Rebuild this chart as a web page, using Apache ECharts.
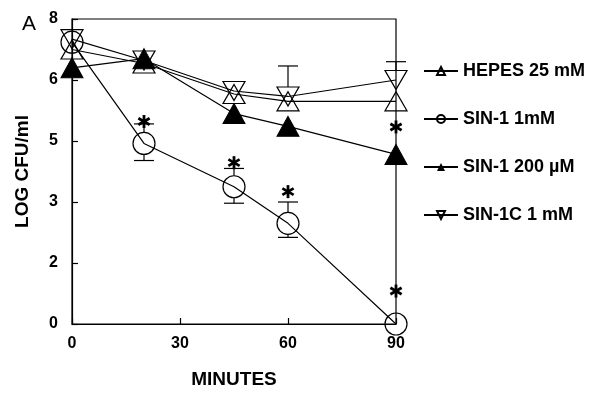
<!DOCTYPE html>
<html><head><meta charset="utf-8">
<script src="https://cdn.jsdelivr.net/npm/echarts@6/dist/echarts.min.js"></script>
<style>html,body{margin:0;padding:0;background:#fff}#c{width:605px;height:394px}</style>
</head><body><div id="c"></div>
<script>
// ---- data (LOG CFU/ml) ----
const minutes = [0, 20, 45, 60, 90];
const yTickLabels = [0, 2, 3, 5, 6, 8];   // evenly spaced ticks on the original axis
const xTicks = [0, 30, 60, 90];
const hepes = [7.0, 6.54, 5.77, 5.65, 5.65];
const sin1_1mM = [7.24, 4.92, 3.5, 2.65, 0];
const sin1_200uM = [6.4, 6.7, 5.45, 5.24, 4.56];
const sin1c = [7.34, 6.64, 5.82, 5.73, 6.0];
const sin1ErrLow = [null, 4.36, 2.98, 2.42, null];
const sin1ErrHigh = [null, 5.28, 4.1, 3.0, null];
const sin1cErrHigh = [null, null, null, 6.46, 6.6];
const starX = [20, 45, 60, 90, 90];
const starY = [5.32, 4.29, 3.34, 1.08, 5.23];

// map value to the axis position (axis is piecewise between its labelled ticks)
function toPos(v) {
  for (let i = 0; i < yTickLabels.length - 1; i++) {
    if (v <= yTickLabels[i + 1]) return i + (v - yTickLabels[i]) / (yTickLabels[i + 1] - yTickLabels[i]);
  }
  return yTickLabels.length - 1;
}
const pts = arr => minutes.map((m, i) => [m, toPos(arr[i])]);

function errData(center, low, high) {
  const out = [];
  minutes.forEach((m, i) => {
    const lo = low ? low[i] : null, hi = high ? high[i] : null;
    if (lo == null && hi == null) return;
    const c = center[i];
    out.push([m, toPos(c), toPos(lo == null ? c : lo), toPos(hi == null ? c : hi)]);
  });
  return out;
}
function errRender(gap) {
  return function (params, api) {
    const x = api.value(0), c = api.value(1), lo = api.value(2), hi = api.value(3);
    const pc = api.coord([x, c]), pl = api.coord([x, lo]), ph = api.coord([x, hi]);
    const st = { stroke: '#000', lineWidth: 1.2 };
    const ch = [];
    if (lo < c) {
      ch.push({ type: 'line', shape: { x1: pl[0], y1: pl[1], x2: pl[0], y2: pc[1] + gap }, style: st });
      ch.push({ type: 'line', shape: { x1: pl[0] - 10, y1: pl[1], x2: pl[0] + 10, y2: pl[1] }, style: st });
    }
    if (hi > c) {
      ch.push({ type: 'line', shape: { x1: ph[0], y1: ph[1], x2: ph[0], y2: pc[1] - gap }, style: st });
      ch.push({ type: 'line', shape: { x1: ph[0] - 10, y1: ph[1], x2: ph[0] + 10, y2: ph[1] }, style: st });
    }
    return { type: 'group', children: ch };
  };
}
function starRender(params, api) {
  const p = api.coord([api.value(0), api.value(1)]);
  const st = { stroke: '#000', lineWidth: 2.8 };
  const r = 6.5, ch = [];
  for (let k = 0; k < 3; k++) {
    const a = Math.PI / 2 + k * Math.PI / 3;
    ch.push({ type: 'line', shape: { x1: p[0] - r * Math.cos(a), y1: p[1] - r * Math.sin(a), x2: p[0] + r * Math.cos(a), y2: p[1] + r * Math.sin(a) }, style: st });
  }
  return { type: 'group', children: ch };
}

const openStyle = { color: 'transparent', borderColor: '#000', borderWidth: 1.2 };
const lineSt = { color: '#000', width: 1.2 };
const downTri = 'path://M0,0L22,0L11,19Z';
const font = 'Liberation Sans, Arial, Helvetica, sans-serif';

const chart = echarts.init(document.getElementById('c'), null, { renderer: 'canvas' });
chart.setOption({
  animation: false,
  backgroundColor: '#fff',
  title: { text: 'A', left: 17, top: 9, textStyle: { fontFamily: font, fontSize: 21, fontWeight: 'normal', color: '#000' } },
  grid: { left: 72, right: 209, top: 19, bottom: 68, show: true, borderColor: '#000', borderWidth: 1.2, backgroundColor: 'transparent' },
  legend: {
    orient: 'vertical', left: 418, top: 56, itemWidth: 34, itemHeight: 10, itemGap: 28, itemTextGap: 13,
    textStyle: { fontFamily: font, fontSize: 18, fontWeight: 'bold', color: '#000', lineHeight: 20 },
    data: ['HEPES 25 mM', 'SIN-1 1mM', 'SIN-1 200 µM', 'SIN-1C 1 mM']
  },
  xAxis: {
    type: 'value', min: 0, max: 90, interval: 30,
    name: 'MINUTES', nameLocation: 'middle', nameGap: 46,
    nameTextStyle: { fontFamily: font, fontSize: 19, fontWeight: 'bold', color: '#000' },
    axisLine: { lineStyle: { color: '#000', width: 1.2 } },
    axisTick: { inside: true, length: 6, lineStyle: { color: '#000', width: 1.2 } },
    axisLabel: { margin: 12, fontFamily: font, fontSize: 16, fontWeight: 'bold', color: '#000',
      formatter: v => xTicks.indexOf(v) >= 0 ? String(v) : '' },
    splitLine: { show: false }
  },
  yAxis: {
    type: 'value', min: 0, max: yTickLabels.length - 1, interval: 1,
    name: 'LOG CFU/ml', nameLocation: 'middle', nameGap: 40,
    nameTextStyle: { fontFamily: font, fontSize: 19, fontWeight: 'bold', color: '#000' },
    axisLine: { show: true, lineStyle: { color: '#000', width: 1.2 } },
    axisTick: { show: true, inside: true, length: 6, lineStyle: { color: '#000', width: 1.2 } },
    axisLabel: { margin: 14, fontFamily: font, fontSize: 16, fontWeight: 'bold', color: '#000',
      formatter: v => String(yTickLabels[v]) },
    splitLine: { show: false }
  },
  series: [
    { name: 'HEPES 25 mM', type: 'line', data: pts(hepes), symbol: 'triangle', symbolSize: [22, 19],
      itemStyle: openStyle, lineStyle: lineSt, z: 3 },
    { name: 'SIN-1 1mM', type: 'line', data: pts(sin1_1mM), symbol: 'circle', symbolSize: 22,
      itemStyle: openStyle, lineStyle: lineSt, z: 3 },
    { name: 'SIN-1 200 µM', type: 'line', data: pts(sin1_200uM), symbol: 'triangle', symbolSize: [22, 20],
      itemStyle: { color: '#000', borderColor: '#000' }, lineStyle: lineSt, z: 2 },
    { name: 'SIN-1C 1 mM', type: 'line', data: pts(sin1c), symbol: downTri, symbolSize: [22, 19],
      itemStyle: openStyle, lineStyle: lineSt, z: 3 },
    { type: 'custom', data: errData(sin1_1mM, sin1ErrLow, sin1ErrHigh), renderItem: errRender(11), z: 4 },
    { type: 'custom', data: errData(sin1c, null, sin1cErrHigh), renderItem: errRender(9.5), z: 4 },
    { type: 'custom', data: starX.map((x, i) => [x, toPos(starY[i])]), renderItem: starRender, z: 5 }
  ]
});
</script></body></html>
